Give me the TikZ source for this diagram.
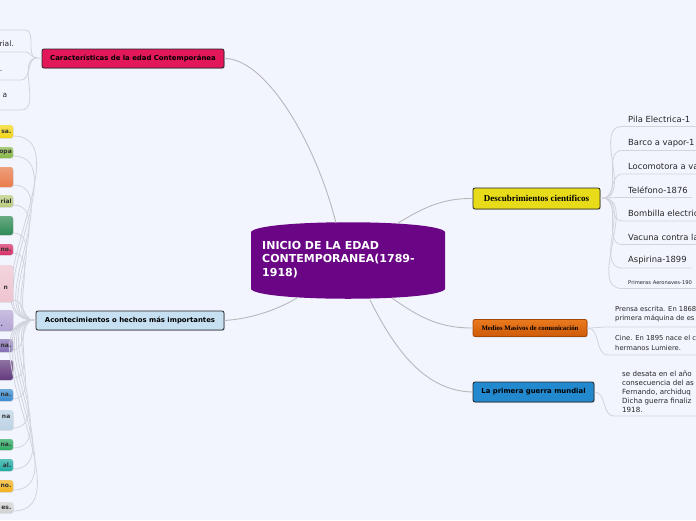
\documentclass[tikz,border=0pt]{standalone}
\usepackage{fontspec}
\setmainfont{DejaVu Sans}
\newfontfamily\serifbold{Liberation Serif}
\usetikzlibrary{shadows}
\definecolor{bg}{RGB}{242,245,254}
\definecolor{edgec}{RGB}{184,184,186}
\definecolor{subedge}{RGB}{210,212,220}
\definecolor{purplec}{RGB}{106,6,133}
\definecolor{charc}{RGB}{226,24,91}
\definecolor{acontc}{RGB}{198,224,242}
\definecolor{descc}{RGB}{232,220,26}
\definecolor{medtop}{RGB}{236,122,30}
\definecolor{medbot}{RGB}{204,90,8}
\definecolor{guerc}{RGB}{34,137,207}
\definecolor{txtc}{RGB}{40,40,40}
\definecolor{cy1}{RGB}{242,213,21}
\definecolor{cy2}{RGB}{136,184,72}
\definecolor{cy3}{RGB}{232,122,74}
\definecolor{cy4}{RGB}{184,204,124}
\definecolor{cy5}{RGB}{47,138,85}
\definecolor{cy6}{RGB}{216,48,104}
\definecolor{cy7}{RGB}{238,196,208}
\definecolor{cy8}{RGB}{180,164,212}
\definecolor{cy9}{RGB}{132,112,180}
\definecolor{cy10}{RGB}{99,58,126}
\definecolor{cy11}{RGB}{58,140,208}
\definecolor{cy12}{RGB}{188,210,228}
\definecolor{cy13}{RGB}{43,170,98}
\definecolor{cy14}{RGB}{31,170,162}
\definecolor{cy15}{RGB}{242,178,30}
\definecolor{cy16}{RGB}{210,210,210}
\tikzset{
  edge/.style={draw=edgec, line width=0.9pt},
  subline/.style={draw=subedge, line width=0.8pt},
  mainbox/.style={draw=black!85, line width=0.8pt, rounded corners=2pt, inner sep=0pt,
    font=\fontsize{6.9}{8}\selectfont\bfseries, text=black,
    drop shadow={shadow xshift=0.8pt, shadow yshift=-0.8pt, opacity=0.35}},
  itemtxt/.style={anchor=west, inner sep=0pt, text=txtc, font=\fontsize{8.4}{9}\selectfont},
  smalltxt/.style={anchor=west, inner sep=0pt, text=txtc, align=left, font=\fontsize{6.8}{9.2}\selectfont},
  colbox/.style={rounded corners=2.5pt, inner sep=0pt, minimum width=25pt},
  boxtxt/.style={anchor=east, inner sep=0pt, text=black!80, font=\fontsize{6}{7}\selectfont\bfseries}
}
\begin{document}
\begin{tikzpicture}[x=1pt,y=-1pt]
\useasboundingbox (0,0) rectangle (696,520);
\fill[bg] (0,0) rectangle (696,520);
\clip (0,0) rectangle (696,520);

% central shape
\fill[purplec] (251,232) .. controls (258,219) and (438,219) .. (445,232)
  -- (445,289) .. controls (438,302) and (258,302) .. (251,289) -- cycle;
\node[anchor=west, inner sep=0pt, text=white, align=left,
  font=\fontsize{11}{13.5}\selectfont\bfseries] (center) at (262,259.5)
  {INICIO DE LA EDAD\\CONTEMPORANEA(1789-\\1918)};
\coordinate (cTop) at (336,223);
\coordinate (cTR) at (398,223);
\coordinate (cBL) at (297,298);
\coordinate (cBR) at (392,298);
\coordinate (cB) at (370,300);

% main branches
\node[mainbox, fill=charc, minimum width=182pt, minimum height=19pt] (char) at (133,58.5)
  {Características de la edad Contemporánea};
\node[mainbox, fill=acontc, minimum width=188pt, minimum height=19pt] (acont) at (130,320.5)
  {Acontecimientos o hechos más importantes};
\node[mainbox, fill=descc, minimum width=127pt, minimum height=21pt,
  font=\serifbold\fontsize{9}{10}\selectfont\bfseries] (desc) at (536.5,198.5)
  {Descubrimientos cientificos};
\node[mainbox, draw=medbot!80!black, top color=medtop, bottom color=medbot,
  minimum width=114pt, minimum height=17pt,
  font=\serifbold\fontsize{6.8}{7}\selectfont\bfseries] (medios) at (530,328)
  {Medios Masivos de comunicación};
\node[mainbox, fill=guerc, minimum width=121pt, minimum height=20pt] (guerra) at (533.5,392)
  {La primera guerra mundial};

\draw[edge] (char.east) .. controls (265,58) and (315,140) .. (cTop);
\draw[edge] (acont.east) .. controls (260,318) and (285,305) .. (cBL);
\draw[edge] (cTR) .. controls (420,210) and (440,198) .. (desc.west);
\draw[edge] (cBR) .. controls (420,318) and (440,328) .. (medios.west);
\draw[edge] (cB) .. controls (395,350) and (425,391) .. (guerra.west);

% children of Caracteristicas
\coordinate (chj) at (37,58);
\draw[subline] (char.west) -- (chj);
\foreach \i/\y/\x in {1/30/25,2/52/25,3/80/21,4/110/21}{
  \coordinate (ck\i) at (\x,\y);
  \coordinate (cl\i) at (-5,\y);
  \draw[subline] (chj) to[out=180,in=0] (ck\i) -- (cl\i);
}
\node[anchor=east, inner sep=0pt, text=txtc, font=\fontsize{7.5}{9}\selectfont] (ct1) at (14,43.5) {rial.};
\node[anchor=east, inner sep=0pt, text=txtc, font=\fontsize{7.5}{9}\selectfont] (ct2) at (2.5,71.5) {.};
\node[anchor=east, inner sep=0pt, text=txtc, font=\fontsize{7.5}{9}\selectfont] (ct3) at (7.5,95) {a};

% children of Acontecimientos
\coordinate (aj) at (34,320);
\foreach \i/\yt/\yb/\txt in {1/125/138/sa.,2/147/158/opa,3/167/187/{},4/195/207/rial,
  5/216/235/{},6/244/255/no.,7/265/302/n,8/310/331/.,9/339/352/na.,10/360/380/{},
  11/389/401/na.,12/410/430/na,13/439/450/na.,14/459/471/al.,15/480/492/no.,16/502/513/es.}{
  \path[colbox, top color=cy\i!72!white, bottom color=cy\i, drop shadow={shadow xshift=0.6pt, shadow yshift=-0.6pt, opacity=0.25}]
    (-15,\yt) rectangle (13,\yb);
  \coordinate (b\i) at (13,\yb-2);
  \draw[subline] (b\i) to[out=0,in=180] (aj);
}
\draw[subline] (aj) -- (acont.west);
\node[boxtxt] (bt1) at (11.5,131.5) {sa.};
\node[boxtxt] (bt2) at (12,152.5) {opa};
\node[boxtxt] (bt4) at (12,201) {rial};
\node[boxtxt] (bt6) at (11.5,249.5) {no.};
\node[boxtxt] (bt7) at (8,288) {n};
\node[boxtxt] (bt8) at (3,325.5) {.};
\node[boxtxt] (bt9) at (11.5,345.5) {na.};
\node[boxtxt] (bt11) at (11.5,395) {na.};
\node[boxtxt] (bt12) at (10.5,417) {na};
\node[boxtxt] (bt13) at (11.5,444.5) {na.};
\node[boxtxt] (bt14) at (11.5,465) {al.};
\node[boxtxt] (bt15) at (11.5,486) {no.};
\node[boxtxt] (bt16) at (11.5,507.5) {es.};

% children of Descubrimientos
\coordinate (dj) at (603,198);
\draw[subline] (desc.east) -- (dj);
\foreach \i/\y/\txt/\e in {1/119/Pila Electrica-1/700,2/143/Barco a vapor-1/700,
  3/166.5/Locomotora a va/700,4/190/Teléfono-1876/692,5/213.5/Bombilla electric/700,
  6/237/Vacuna contra la/700,7/260.5/Aspirina-1899/692}{
  \node[itemtxt] (d\i) at (628,\y) {\txt};
  \coordinate (du\i) at (622,\y+7.5);
  \coordinate (de\i) at (\e,\y+7.5);
  \draw[subline] (dj) to[out=0,in=180] (du\i) -- (de\i);
}
\node[itemtxt, font=\fontsize{5.2}{6}\selectfont] (d8) at (628,282.5) {Primeras Aeronaves-190};
\coordinate (du8) at (622,288.5);
\coordinate (de8) at (700,288.5);
\draw[subline] (dj) to[out=0,in=180] (du8) -- (de8);

% children of Medios
\node[smalltxt] (m1) at (615,314.5) {Prensa escrita. En 1868\\primera máquina de es};
\node[smalltxt] (m2) at (615,343) {Cine. En 1895 nace el c\\hermanos Lumiere.};
\coordinate (mu1) at (608,327);
\coordinate (me1) at (700,327);
\coordinate (mu2) at (608,355);
\coordinate (me2) at (700,355);
\draw[subline] (medios.east) to[out=0,in=180] (mu1) -- (me1);
\draw[subline] (medios.east) to[out=0,in=180] (mu2) -- (me2);

% child of Guerra
\node[smalltxt, font=\fontsize{7.1}{9}\selectfont] (g1) at (622,392) {se desata en el año\\consecuencia del as\\Fernando, archiduq\\Dicha guerra finaliz\\1918.};
\coordinate (gu1) at (614,416);
\coordinate (ge1) at (700,416);
\draw[subline] (guerra.east) to[out=0,in=180] (gu1) -- (ge1);
\end{tikzpicture}
\end{document}
